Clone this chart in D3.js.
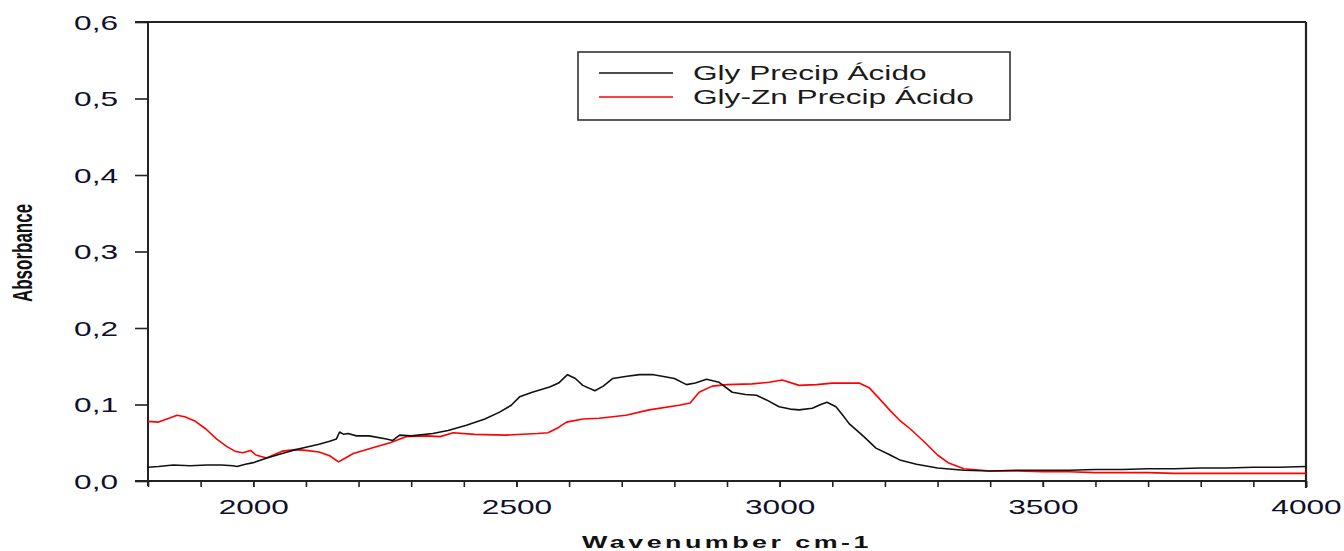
<!DOCTYPE html>
<html>
<head>
<meta charset="utf-8">
<script src="https://cdn.jsdelivr.net/npm/d3@7"></script>
<style>
  html, body { margin: 0; padding: 0; background: #fff; }
  svg { display: block; }
  text { font-family: "Liberation Sans", Arial, sans-serif; }
</style>
</head>
<body>
<svg id="chart" width="1344" height="551"></svg>
<script>
// ---- Data ----
const seriesNames = ["Gly Precip Ácido", "Gly-Zn Precip Ácido"];
const seriesColors = ["#111111", "#ff0000"];

const glyWavenumber = [1800,1820,1848,1880,1912,1940,1961,1969,1985,2000,2026,2050,2075,2100,2125,2145,2158,2164,2172,2180,2196,2220,2253,2265,2278,2300,2341,2370,2405,2440,2468,2490,2506,2530,2563,2580,2597,2612,2626,2649,2665,2683,2710,2734,2760,2777,2800,2823,2840,2861,2885,2910,2935,2956,2975,2999,3020,3037,3062,3078,3090,3107,3120,3132,3160,3183,3210,3230,3260,3300,3350,3400,3450,3500,3550,3600,3650,3700,3750,3800,3850,3900,3950,4000];
const glyAbsorbance = [0.018,0.019,0.021,0.020,0.021,0.021,0.020,0.019,0.022,0.024,0.030,0.035,0.040,0.044,0.048,0.052,0.055,0.064,0.061,0.062,0.059,0.059,0.055,0.053,0.060,0.059,0.062,0.066,0.073,0.081,0.090,0.099,0.110,0.116,0.123,0.128,0.139,0.134,0.125,0.118,0.124,0.134,0.137,0.139,0.139,0.137,0.134,0.126,0.128,0.133,0.129,0.116,0.113,0.112,0.106,0.097,0.094,0.093,0.095,0.100,0.103,0.097,0.086,0.075,0.058,0.043,0.034,0.027,0.022,0.017,0.014,0.013,0.014,0.014,0.014,0.015,0.015,0.016,0.016,0.017,0.017,0.018,0.018,0.019];

const glyZnWavenumber = [1800,1820,1840,1855,1870,1890,1910,1930,1950,1965,1980,1995,2005,2025,2055,2080,2100,2125,2145,2162,2175,2190,2230,2260,2290,2330,2355,2380,2420,2480,2540,2560,2580,2595,2626,2657,2708,2752,2809,2830,2847,2872,2900,2948,2980,3005,3037,3070,3100,3151,3170,3189,3210,3227,3250,3275,3300,3320,3350,3400,3450,3500,3550,3600,3650,3700,3750,3800,3850,3900,3950,4000];
const glyZnAbsorbance = [0.078,0.077,0.082,0.086,0.084,0.078,0.068,0.055,0.045,0.039,0.037,0.040,0.034,0.030,0.039,0.041,0.040,0.038,0.033,0.025,0.030,0.036,0.044,0.050,0.058,0.059,0.058,0.063,0.061,0.060,0.062,0.063,0.070,0.077,0.081,0.082,0.086,0.093,0.099,0.102,0.116,0.124,0.126,0.127,0.129,0.132,0.125,0.126,0.128,0.128,0.122,0.108,0.092,0.080,0.067,0.051,0.034,0.024,0.016,0.013,0.013,0.012,0.012,0.011,0.011,0.011,0.010,0.010,0.010,0.010,0.010,0.010];

const xTickValues = [2000, 2500, 3000, 3500, 4000];
const xMinorTickValues = [1800,1900,2000,2100,2200,2300,2400,2500,2600,2700,2800,2900,3000,3100,3200,3300,3400,3500,3600,3700,3800,3900,4000];
const yTickValues = [0, 0.1, 0.2, 0.3, 0.4, 0.5, 0.6];
const yTickLabels = ["0,0", "0,1", "0,2", "0,3", "0,4", "0,5", "0,6"];
const xTitle = "Wavenumber cm-1";
const yTitle = "Absorbance";

// ---- Layout ----
const STRETCH = 1.58;
const plot = { left: 148, right: 1306, top: 22, bottom: 481 };
const svg = d3.select("#chart");

const x = d3.scaleLinear().domain([1800, 4000]).range([plot.left, plot.right]);
const y = d3.scaleLinear().domain([0, 0.6]).range([plot.bottom, plot.top]);

const axisColor = "#222";
const labelColor = "#10102a";

// Frame (top and right)
svg.append("line").attr("x1", plot.left - 13).attr("x2", plot.right)
  .attr("y1", plot.top).attr("y2", plot.top)
  .attr("stroke", axisColor).attr("stroke-width", 2);
svg.append("line").attr("x1", plot.right).attr("x2", plot.right)
  .attr("y1", plot.top).attr("y2", plot.bottom + 7)
  .attr("stroke", axisColor).attr("stroke-width", 2.2);

// Y axis
const yAxis = d3.axisLeft(y).tickValues(yTickValues).tickSize(13)
  .tickFormat((d, i) => yTickLabels[i]);
const gy = svg.append("g").attr("transform", `translate(${plot.left},0)`).call(yAxis);
gy.select(".domain").attr("d", `M0,${plot.top}V${plot.bottom + 5}`)
  .attr("stroke", axisColor).attr("stroke-width", 2);
gy.selectAll(".tick line").attr("stroke", axisColor).attr("stroke-width", 1.6);
gy.selectAll(".tick text")
  .attr("x", -30 / STRETCH).attr("dy", "0.35em")
  .attr("transform", `scale(${STRETCH},1)`)
  .attr("font-size", 20).attr("fill", labelColor)
  .attr("font-family", "Liberation Sans, Arial, sans-serif");

// X axis (minor ticks)
const xAxisMinor = d3.axisBottom(x).tickValues(xMinorTickValues).tickSize(6).tickFormat("");
const gxm = svg.append("g").attr("transform", `translate(0,${plot.bottom})`).call(xAxisMinor);
gxm.select(".domain").attr("d", `M${plot.left - 13},0H${plot.right}`)
  .attr("stroke", axisColor).attr("stroke-width", 2);
gxm.selectAll(".tick line").attr("stroke", axisColor).attr("stroke-width", 1.6);

// X axis labels
const xAxis = d3.axisBottom(x).tickValues(xTickValues).tickSize(6).tickFormat(d3.format("d"));
const gx = svg.append("g").attr("transform", `translate(0,${plot.bottom})`).call(xAxis);
gx.select(".domain").remove();
gx.selectAll(".tick line").attr("stroke", axisColor).attr("stroke-width", 1.6);
gx.selectAll(".tick text")
  .attr("y", 33).attr("dy", "0")
  .attr("transform", `scale(${STRETCH},1)`)
  .attr("font-size", 20).attr("fill", labelColor)
  .attr("font-family", "Liberation Sans, Arial, sans-serif");

// Clip
svg.append("clipPath").attr("id", "clip").append("rect")
  .attr("x", plot.left).attr("y", plot.top)
  .attr("width", plot.right - plot.left).attr("height", plot.bottom - plot.top);

const line = d3.line().x(d => x(d[0])).y(d => y(d[1]));
const series = [
  d3.zip(glyWavenumber, glyAbsorbance),
  d3.zip(glyZnWavenumber, glyZnAbsorbance)
];
// draw red first, black on top
[1, 0].forEach(i => {
  svg.append("path").datum(series[i])
    .attr("clip-path", "url(#clip)")
    .attr("fill", "none").attr("stroke", seriesColors[i])
    .attr("stroke-width", 1.6).attr("stroke-linejoin", "round")
    .attr("d", line);
});

// Legend
const lg = svg.append("g");
lg.append("rect").attr("x", 578).attr("y", 52).attr("width", 432).attr("height", 68)
  .attr("fill", "#fff").attr("stroke", "#333").attr("stroke-width", 1.6);
seriesNames.forEach((name, i) => {
  const yy = 73 + i * 24;
  lg.append("line").attr("x1", 599).attr("x2", 673).attr("y1", yy).attr("y2", yy)
    .attr("stroke", seriesColors[i]).attr("stroke-width", 1.4);
  lg.append("text")
    .attr("transform", `translate(693,${yy + 7}) scale(${STRETCH},1)`)
    .attr("font-size", 20).attr("fill", "#1a1a1a")
    .text(name);
});

// Axis titles
svg.append("text")
  .attr("transform", `translate(${(plot.left + plot.right) / 2},548) scale(${STRETCH},1)`)
  .attr("text-anchor", "middle").attr("font-size", 17).attr("font-weight", "bold")
  .attr("letter-spacing", 2.2).attr("fill", "#111")
  .text(xTitle);

svg.append("text")
  .attr("transform", `translate(32,253) scale(${STRETCH},1) rotate(-90)`)
  .attr("text-anchor", "middle").attr("font-size", 17).attr("font-weight", "bold")
  .attr("fill", "#111")
  .text(yTitle);
</script>
</body>
</html>
